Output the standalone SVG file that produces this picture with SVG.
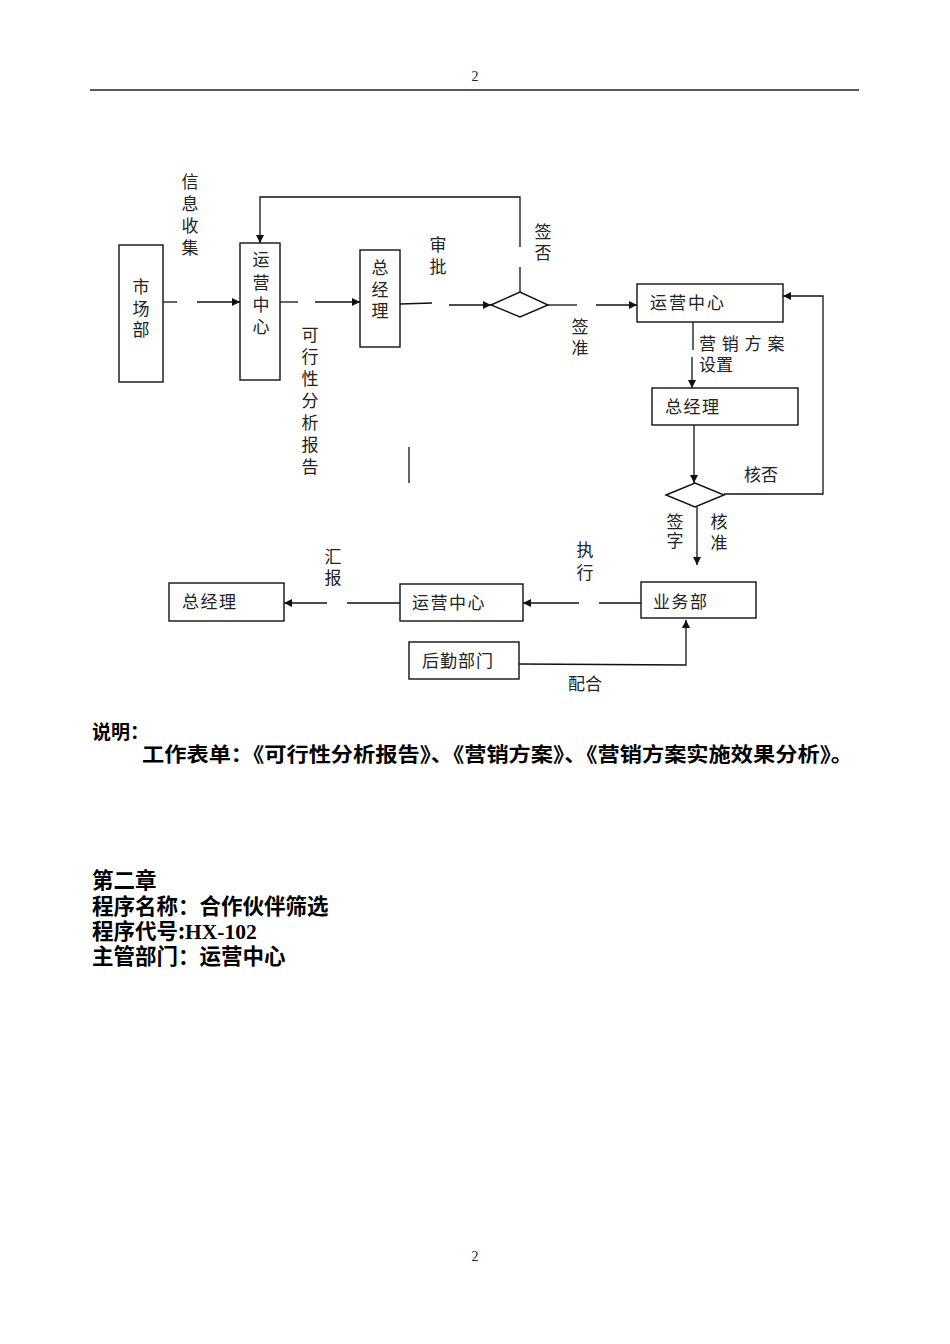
<svg xmlns="http://www.w3.org/2000/svg" width="950" height="1344" viewBox="0 0 950 1344">
<style>
.lbl{font-family:"Noto Sans CJK SC","Noto Sans",sans-serif;font-size:17px;fill:#222}
.vt{writing-mode:vertical-rl;text-orientation:upright}
.box{fill:#fff;stroke:#111;stroke-width:1.4}
.ln{fill:none;stroke:#111;stroke-width:1.3}
.body{font-family:"Noto Sans CJK SC","Noto Sans",sans-serif;font-weight:bold;fill:#000}
.pg{font-family:"Liberation Serif",serif;font-size:14px;fill:#222;text-anchor:middle}
</style>
<defs>
<marker id="arr" viewBox="0 0 10 10" refX="10" refY="5" markerWidth="10" markerHeight="8" markerUnits="userSpaceOnUse" orient="auto">
<path d="M0,0 L10,5 L0,10 z" fill="#111"/>
</marker>
</defs>
<rect width="950" height="1344" fill="#fff"/>
<text class="pg" x="475" y="81">2</text>
<line x1="90" y1="90" x2="859" y2="90" stroke="#222" stroke-width="1.6"/>

<g id="connectors">
<line class="ln" x1="148" y1="302" x2="177" y2="302"/>
<line class="ln" x1="197" y1="302" x2="240" y2="302" marker-end="url(#arr)"/>
<line class="ln" x1="280" y1="302" x2="298" y2="302"/>
<line class="ln" x1="315" y1="302" x2="360" y2="302" marker-end="url(#arr)"/>
<line class="ln" x1="400" y1="304" x2="432" y2="303"/>
<line class="ln" x1="449" y1="305" x2="491" y2="305" marker-end="url(#arr)"/>
<line class="ln" x1="548" y1="305" x2="577" y2="305"/>
<line class="ln" x1="596" y1="305" x2="637" y2="305" marker-end="url(#arr)"/>
<line class="ln" x1="520" y1="292" x2="520" y2="267"/>
<polyline class="ln" points="520,247 520,197 260,197 260,243" marker-end="url(#arr)"/>
<line class="ln" x1="693" y1="322" x2="693" y2="350"/>
<line class="ln" x1="692" y1="357" x2="692" y2="388" marker-end="url(#arr)"/>
<line class="ln" x1="694" y1="425" x2="694" y2="483" marker-end="url(#arr)"/>
<polyline class="ln" points="724,494 823,494 823,296 783,296" marker-end="url(#arr)"/>
<line class="ln" x1="697" y1="507" x2="697" y2="565" marker-end="url(#arr)"/>
<line class="ln" x1="641" y1="603" x2="599" y2="603"/>
<line class="ln" x1="579" y1="603" x2="523" y2="603" marker-end="url(#arr)"/>
<line class="ln" x1="400" y1="603" x2="347" y2="603"/>
<line class="ln" x1="327" y1="603" x2="284" y2="603" marker-end="url(#arr)"/>
<polyline class="ln" points="519,664 686,665 686,620" marker-end="url(#arr)"/>
<line class="ln" x1="409" y1="447" x2="409" y2="483"/>
</g>

<g id="label-xinxi"><text class="lbl vt" x="190" y="173.5" letter-spacing="4.7">信息收集</text></g>
<g id="label-kexing"><text class="lbl vt" x="310" y="326.5" letter-spacing="5">可行性分析报告</text></g>
<g id="label-shenpi"><text class="lbl vt" x="438" y="236.5" letter-spacing="5">审批</text></g>
<g id="label-qianfou"><text class="lbl vt" x="543" y="223.5" letter-spacing="4">签否</text></g>
<g id="label-qianzhun"><text class="lbl vt" x="580" y="318.5" letter-spacing="4">签准</text></g>
<g id="label-yingxiao"><text class="lbl" x="699" y="350" letter-spacing="1">营 销 方 案</text><text class="lbl" x="699" y="371">设置</text></g>
<g id="label-hefou"><text class="lbl" x="744" y="481">核否</text></g>
<g id="label-qianzi"><text class="lbl vt" x="675" y="513.5" letter-spacing="2">签字</text></g>
<g id="label-hezhun"><text class="lbl vt" x="719" y="513.5" letter-spacing="4">核准</text></g>
<g id="label-zhixing"><text class="lbl vt" x="585" y="541.5" letter-spacing="6">执行</text></g>
<g id="label-huibao"><text class="lbl vt" x="333" y="548.5" letter-spacing="4">汇报</text></g>
<g id="label-peihe"><text class="lbl" x="568" y="690">配合</text></g>

<g id="node-shichangbu"><rect class="box" x="119" y="245" width="44" height="137"/><text class="lbl vt" x="141" y="278.5" letter-spacing="4.5">市场部</text></g>
<g id="node-yunying1"><rect class="box" x="240" y="243" width="40" height="137"/><text class="lbl vt" x="261" y="251.5" letter-spacing="5.3">运营中心</text></g>
<g id="node-zongjingli1"><rect class="box" x="360" y="250" width="40" height="97"/><text class="lbl vt" x="380" y="259.5" letter-spacing="4.5">总经理</text></g>
<g id="node-decision1"><polygon class="box" points="491,305 520,292 548,305 520,317"/></g>
<g id="node-yunying2"><rect class="box" x="637" y="284" width="146" height="38"/><text class="lbl" x="650" y="309" letter-spacing="2">运营中心</text></g>
<g id="node-zongjingli2"><rect class="box" x="652" y="388" width="146" height="37"/><text class="lbl" x="665" y="413" letter-spacing="1.5">总经理</text></g>
<g id="node-decision2"><polygon class="box" points="666,495 695,483 724,495 695,507"/></g>
<g id="node-yewubu"><rect class="box" x="641" y="582" width="115" height="36"/><text class="lbl" x="653" y="608" letter-spacing="1.5">业务部</text></g>
<g id="node-yunying3"><rect class="box" x="400" y="584" width="123" height="37"/><text class="lbl" x="412" y="609" letter-spacing="1.5">运营中心</text></g>
<g id="node-zongjingli3"><rect class="box" x="169" y="583" width="115" height="38"/><text class="lbl" x="182" y="608" letter-spacing="1.5">总经理</text></g>
<g id="node-houqin"><rect class="box" x="409" y="642" width="110" height="37"/><text class="lbl" x="422" y="667" letter-spacing="1">后勤部门</text></g>

<g id="notes">
<text class="body" x="92" y="739" font-size="19">说明：</text>
<text class="body" x="142" y="762" font-size="20" textLength="711" lengthAdjust="spacingAndGlyphs">工作表单：《可行性分析报告》、《营销方案》、《营销方案实施效果分析》。</text>
<text class="body" x="92" y="888" font-size="21.5">第二章</text>
<text class="body" x="92" y="914" font-size="21.5">程序名称：合作伙伴筛选</text>
<text class="body" x="92" y="939" font-size="21.5">程序代号:<tspan font-family="Liberation Serif,serif">HX-102</tspan></text>
<text class="body" x="92" y="964" font-size="21.5">主管部门：运营中心</text>
</g>
<text class="pg" x="475" y="1261">2</text>
</svg>
